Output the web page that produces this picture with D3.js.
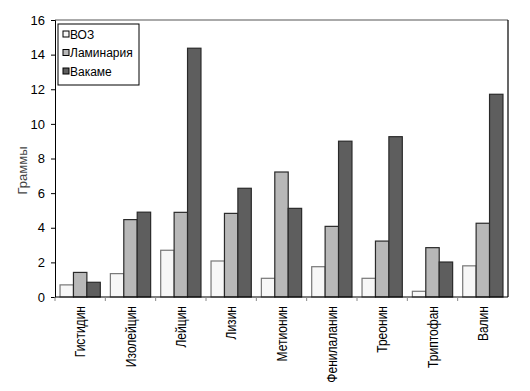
<!DOCTYPE html>
<html>
<head>
<meta charset="utf-8">
<script src="https://cdn.jsdelivr.net/npm/d3@7"></script>
<style>
  body { margin: 0; background: #fff; }
  svg { display: block; }
  .axis text { font-family: "Liberation Sans", Arial, sans-serif; font-size: 13px; fill: #000; }
  .x-axis text { font-size: 14px; }
</style>
</head>
<body>
<svg id="chart" width="530" height="391"></svg>
<script>
const categories = ['Гистидин', 'Изолейцин', 'Лейцин', 'Лизин', 'Метионин', 'Фенилаланин', 'Треонин', 'Триптофан', 'Валин']
const seriesNames = ['ВОЗ', 'Ламинария', 'Вакаме']
const voz = [0.7, 1.35, 2.7, 2.08, 1.08, 1.75, 1.08, 0.33, 1.8]
const laminaria = [1.42, 4.47, 4.89, 4.83, 7.22, 4.08, 3.23, 2.85, 4.26]
const wakame = [0.85, 4.9, 14.37, 6.28, 5.12, 9.0, 9.26, 2.02, 11.71]
const yTicks = [0, 2, 4, 6, 8, 10, 12, 14, 16]

const colors = ['#f7f7f7', '#b8b8b8', '#5e5e5e']
const margin = { top: 20, right: 22, bottom: 94, left: 55 }
const width = 530 - margin.left - margin.right
const height = 391 - margin.top - margin.bottom

const svg = d3.select('#chart')
const g = svg.append('g').attr('transform', `translate(${margin.left},${margin.top})`)

const x = d3.scaleBand().domain(categories).range([0, width]).paddingInner(0.2).paddingOuter(0.1)
const xOuter = d3.scaleBand().domain(categories).range([0, width])
const xSeries = d3.scaleBand().domain(seriesNames).range([0, x.bandwidth()])
const y = d3.scaleLinear().domain([0, 16]).range([height, 0])

const table = categories.map((c, i) => ({ cat: c, values: [voz[i], laminaria[i], wakame[i]] }))

// frame: grey top, black right
g.append('line').attr('x1', 0).attr('x2', width).attr('y1', 0).attr('y2', 0)
  .attr('stroke', '#aaa').attr('stroke-width', 2)
g.append('line').attr('x1', width).attr('x2', width).attr('y1', 0).attr('y2', height)
  .attr('stroke', '#000').attr('stroke-width', 1.2)

// bars
const groups = g.selectAll('.grp').data(table).enter().append('g')
  .attr('transform', d => `translate(${xOuter(d.cat) + (xOuter.bandwidth() - x.bandwidth()) / 2},0)`)
groups.selectAll('rect').data(d => d.values.map((v, k) => ({ k, v }))).enter().append('rect')
  .attr('x', d => xSeries(seriesNames[d.k]))
  .attr('y', d => y(d.v))
  .attr('width', xSeries.bandwidth())
  .attr('height', d => height - y(d.v))
  .attr('fill', d => colors[d.k])
  .attr('stroke', d => d.k === 0 ? '#777' : '#2a2a2a')
  .attr('stroke-width', 1.2)

// y axis
g.append('g').attr('class', 'axis y-axis')
  .call(d3.axisLeft(y).tickValues(yTicks).tickSize(4).tickPadding(6).tickFormat(d3.format('d')))
  .call(a => a.select('.domain').attr('stroke', '#000'))

// x axis with ticks at category boundaries
const xa = g.append('g').attr('class', 'axis x-axis').attr('transform', `translate(0,${height})`)
xa.append('line').attr('x1', 0).attr('x2', width).attr('stroke', '#000').attr('stroke-width', 1.2)
xa.selectAll('.tk').data(categories).enter().append('line')
  .attr('x1', d => xOuter(d)).attr('x2', d => xOuter(d)).attr('y1', 0).attr('y2', 4)
  .attr('stroke', '#888')
xa.selectAll('text').data(categories).enter().append('text')
  .attr('transform', d => `translate(${xOuter(d) + xOuter.bandwidth() / 2 + 5},9) rotate(-90) scale(0.86,1)`)
  .attr('text-anchor', 'end')
  .text(d => d)

// y label
svg.append('text')
  .attr('transform', `translate(27,${margin.top + height / 2 + 12}) rotate(-90)`)
  .attr('text-anchor', 'middle')
  .attr('font-family', '"Liberation Sans", Arial, sans-serif')
  .attr('font-size', 13)
  .attr('fill', '#444')
  .text('Граммы')

// legend
const lg = svg.append('g').attr('transform', 'translate(58,24)')
lg.append('rect').attr('width', 81).attr('height', 61).attr('fill', '#fff').attr('stroke', '#000').attr('stroke-width', 1)
seriesNames.forEach((s, i) => {
  const row = lg.append('g').attr('transform', `translate(5,${10 + i * 18.5})`)
  row.append('rect').attr('x', 0).attr('y', -3).attr('width', 6).attr('height', 6)
    .attr('fill', colors[i]).attr('stroke', '#000').attr('stroke-width', 1)
  row.append('text').attr('x', 7).attr('y', 4.5)
    .attr('font-family', '"Liberation Sans", Arial, sans-serif')
    .attr('font-size', 12).text(s)
})
</script>
</body>
</html>
